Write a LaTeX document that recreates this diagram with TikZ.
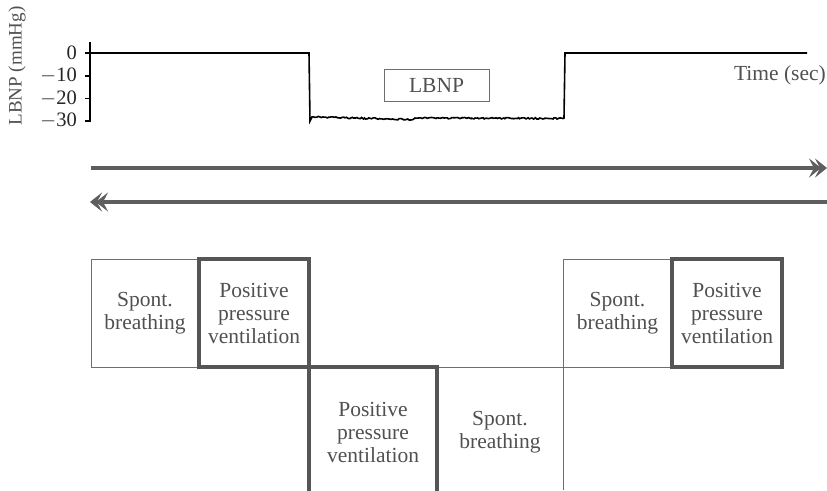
\documentclass[tikz,border=0pt]{standalone}
\usepackage{fontspec}
\setmainfont{Liberation Serif}
\usetikzlibrary{arrows.meta,decorations.pathmorphing}
\definecolor{txtgray}{HTML}{505050}
\definecolor{boxgray}{HTML}{555555}
\definecolor{thingray}{HTML}{6E6E6E}
\definecolor{arrgray}{HTML}{5E5E5E}
\begin{document}
\begin{tikzpicture}[x=1pt,y=-1pt,
  lbl/.style={text=txtgray, font=\fontsize{21.5}{23}\selectfont, align=center, inner sep=0pt},
  thinbox/.style={lbl, draw=thingray, line width=1pt, minimum height=108pt},
  thickbox/.style={lbl, draw=boxgray, line width=3.5pt, minimum height=108pt},
  thinline/.style={draw=thingray, line width=1pt},
  thickline/.style={draw=boxgray, line width=3.5pt},
  ticklbl/.style={anchor=east, inner sep=0pt, text=black!85, font=\fontsize{20.5}{22}\selectfont},
  arr/.style={draw=arrgray, line width=4pt,
    -{Stealth[length=12pt,width=19pt,inset=5pt,sep=-6pt] Stealth[length=12pt,width=19pt,inset=5pt]}},
  signal/.style={line width=1.6pt, black}
]
\useasboundingbox (0,0) rectangle (827,490);
\pgfmathsetseed{7}

% axis
\draw[line width=1.4pt] (90,42) -- (90,122);
\foreach \yy in {53,76,98.5,121} \draw[line width=1.4pt] (85,\yy) -- (90,\yy);
\node[ticklbl] (t0) at (77,53) {0};
\node[ticklbl] (t10) at (77,76) {$-$10};
\node[ticklbl] (t20) at (77,98.5) {$-$20};
\node[ticklbl] (t30) at (77,121) {$-$30};
\node[rotate=90, text=txtgray, inner sep=0pt, font=\fontsize{19}{21}\selectfont] (ylab) at (17,66) {LBNP (mmHg)};

% signal
\draw[signal] (90,53) -- (309,53) -- (310,121) -- (312,117)
  decorate[decoration={random steps, segment length=1.5pt, amplitude=0.7pt}] {-- (413,119.5)}
  -- (415,118)
  decorate[decoration={random steps, segment length=1.5pt, amplitude=0.7pt}] {-- (563,118.5)}
  -- (564,118) -- (565,53) -- (807,53);

\node[lbl, draw=thingray, line width=1pt, minimum width=105pt, minimum height=32pt] (lbnp) at (436.5,85) {LBNP};
\node[lbl, anchor=east] (time) at (826,75) {Time (sec)};

% arrows
\coordinate (ta) at (91,168);
\coordinate (tb) at (827,168);
\coordinate (ba) at (90,202);
\coordinate (bb) at (827,202);
\draw[arr] (ta) -- (tb);
\draw[arr] (bb) -- (ba);

% thin boxes
\node[thinbox, minimum width=108pt] (a) at (145,313) {Spont.\\breathing};
\node[thinbox, minimum width=109pt] (e) at (617.5,313) {Spont.\\breathing};
\node[lbl] (d) at (500,432) {Spont.\\breathing};
\draw[thinline] (437,367) -- (563,367);
\draw[thinline] (563,367) -- (563,490);

% thick boxes
\node[thickbox, minimum width=110pt] (b) at (254,313) {Positive\\pressure\\ventilation};
\node[thickbox, minimum width=110pt] (f) at (727,313) {Positive\\pressure\\ventilation};
\node[lbl] (c) at (373,432) {Positive\\pressure\\ventilation};
\draw[thickline] (309,492) -- (309,367) -- (437,367) -- (437,492);
\end{tikzpicture}
\end{document}
